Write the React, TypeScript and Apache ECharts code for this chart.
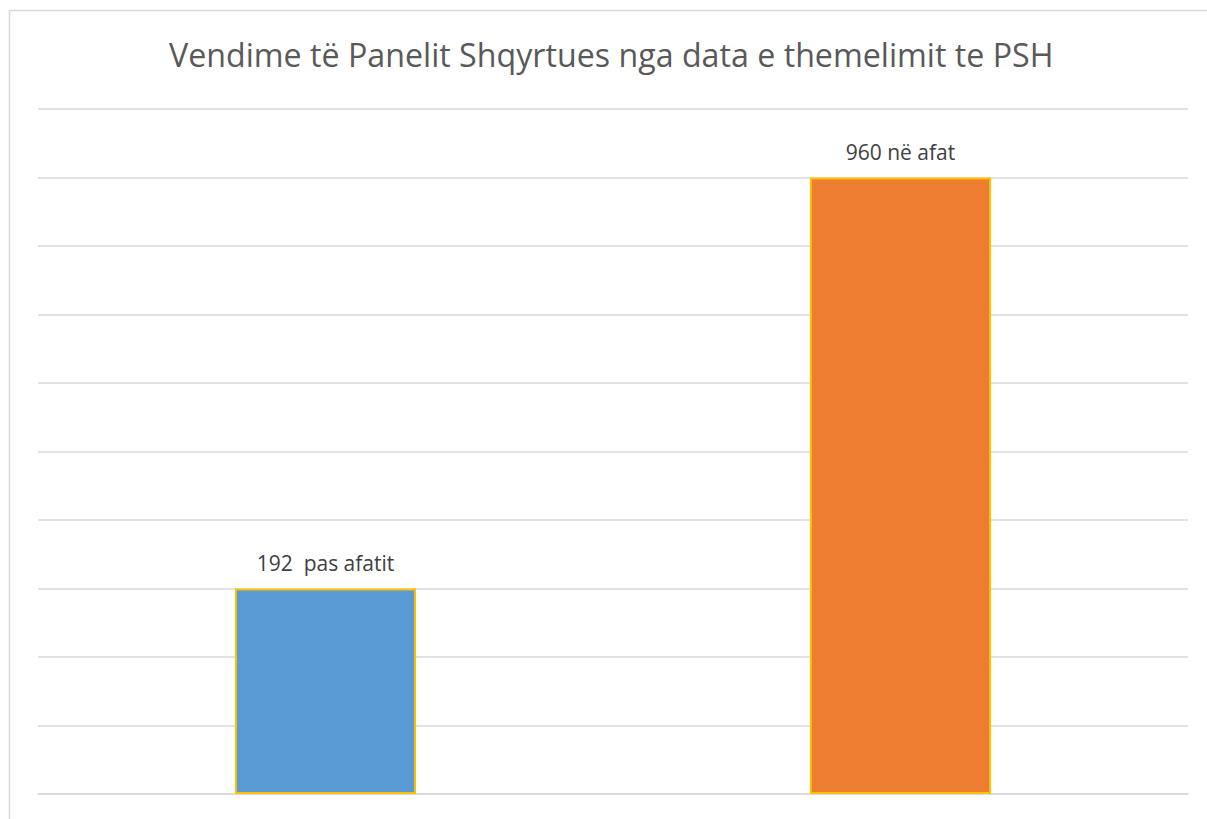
import React, { useEffect, useRef } from "react";
import * as echarts from "echarts";

const titleText = "Vendime të Panelit Shqyrtues nga data e themelimit te PSH";
const categories = ["pas afatit", "në afat"];
const barHeights = [3, 9];
const barLabels = ["192  pas afatit", "960 në afat"];
const barColors = ["#5B9BD5", "#ED7D31"];
const yMax = 10;
const yInterval = 1;

export default function App() {
  const ref = useRef<HTMLDivElement>(null);
  useEffect(() => {
    if (!ref.current) return;
    const chart = echarts.init(ref.current, null, { renderer: "svg" });
    chart.setOption({
      animation: false,
      backgroundColor: "#ffffff",
      title: {
        text: titleText,
        left: 164,
        top: 33,
        textStyle: {
          fontFamily: "Open Sans",
          fontSize: 32.2,
          fontWeight: "normal",
          color: "#595959",
        },
      },
      graphic: [
        {
          type: "rect",
          shape: { x: 9.5, y: 10.5, width: 1400, height: 1000 },
          style: { fill: "none", stroke: "#d9d9d9", lineWidth: 1.5 },
          silent: true,
        },
      ],
      grid: { left: 38, right: 19, top: 109, bottom: 25 },
      xAxis: {
        type: "category",
        data: categories,
        axisLine: { lineStyle: { color: "#d9d9d9", width: 1.5 } },
        axisTick: { show: false },
        axisLabel: { show: false },
      },
      yAxis: {
        type: "value",
        min: 0,
        max: yMax,
        interval: yInterval,
        axisLabel: { show: false },
        axisLine: { show: false },
        axisTick: { show: false },
        splitLine: { lineStyle: { color: "#d9d9d9", width: 1.5 } },
      },
      series: [
        {
          type: "bar",
          barWidth: "31.5%",
          data: barHeights.map((v, i) => ({
            value: v,
            itemStyle: {
              color: barColors[i],
              borderColor: "#FFC000",
              borderWidth: 2,
            },
          })),
          label: {
            show: true,
            position: "top",
            distance: 15,
            formatter: (p: any) => barLabels[p.dataIndex],
            fontFamily: "Open Sans",
            fontSize: 21,
            color: "#404040",
          },
        },
      ],
    });
    return () => chart.dispose();
  }, []);
  return (
    <div
      ref={ref}
      style={{ position: "absolute", left: 0, top: 0, width: 1207, height: 819 }}
    />
  );
}
